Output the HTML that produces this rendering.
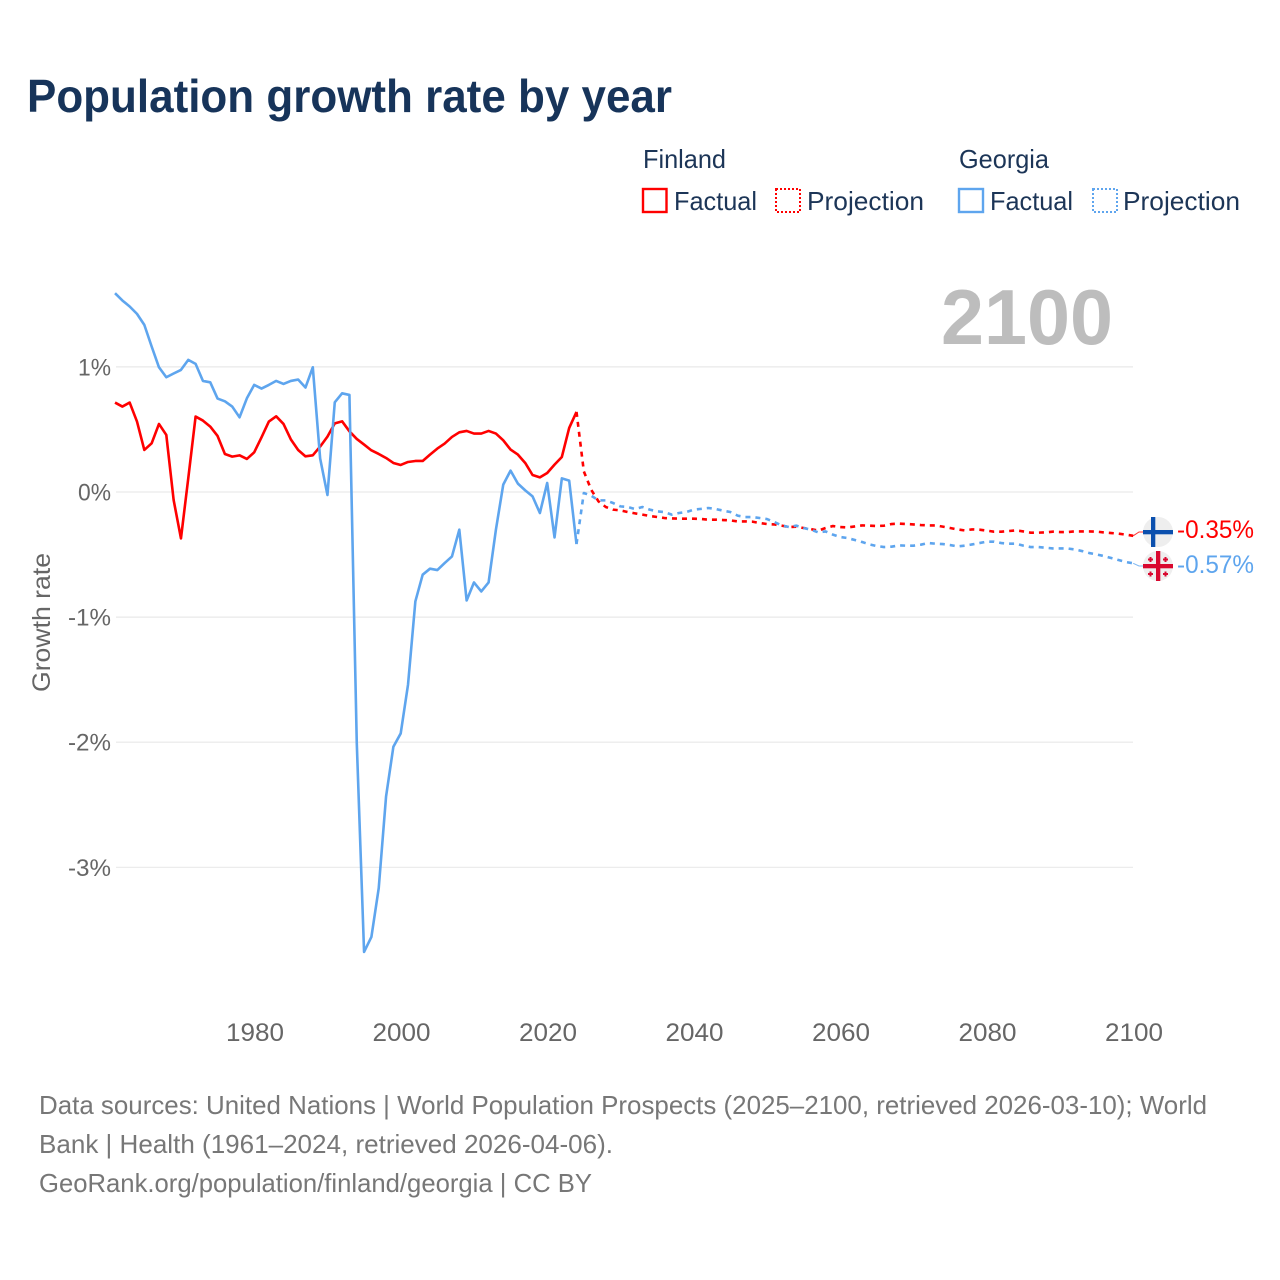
<!DOCTYPE html>
<html lang="en">
<head>
<meta charset="utf-8">
<title>Population growth rate by year</title>
<style>
  html, body { margin: 0; padding: 0; background: #fff; }
  svg { display: block; font-family: "Liberation Sans", sans-serif; }
</style>
</head>
<body>
<svg id="chart" xmlns="http://www.w3.org/2000/svg" width="1280" height="1280" viewBox="0 0 1280 1280">
  <rect x="0" y="0" width="1280" height="1280" fill="#ffffff"/>
  <text x="27" y="112" font-size="46" font-weight="700" fill="#17345a" textLength="645" lengthAdjust="spacingAndGlyphs">Population growth rate by year</text>

  <g font-size="26" fill="#1c3557">
    <text x="643" y="168" textLength="83" lengthAdjust="spacingAndGlyphs">Finland</text>
    <g>
      <rect x="643" y="189" width="23.500" height="23" fill="none" stroke="#ff0000" stroke-width="2.400"/>
      <text x="674" y="210" textLength="83" lengthAdjust="spacingAndGlyphs">Factual</text>
    </g>
    <g>
      <rect x="776" y="189" width="24" height="23" fill="none" stroke="#ff0000" stroke-width="2" stroke-dasharray="2 2"/>
      <text x="807" y="210" textLength="117" lengthAdjust="spacingAndGlyphs">Projection</text>
    </g>
    <text x="959" y="168" textLength="90" lengthAdjust="spacingAndGlyphs">Georgia</text>
    <g>
      <rect x="959" y="189" width="24" height="23" fill="none" stroke="#5ea5ee" stroke-width="2.400"/>
      <text x="990" y="210" textLength="83" lengthAdjust="spacingAndGlyphs">Factual</text>
    </g>
    <g>
      <rect x="1093" y="189" width="24" height="23" fill="none" stroke="#5ea5ee" stroke-width="2" stroke-dasharray="2 2"/>
      <text x="1123" y="210" textLength="117" lengthAdjust="spacingAndGlyphs">Projection</text>
    </g>
  </g>

  <text x="941" y="344" font-size="78" font-weight="700" fill="#bdbdbd" textLength="172" lengthAdjust="spacingAndGlyphs">2100</text>

  <g id="grid"></g>
  <g id="y-ticks"></g>
  <g id="x-ticks"></g>
  <text transform="translate(50,692) rotate(-90)" x="0" y="0" font-size="25" fill="#666666" textLength="139" lengthAdjust="spacingAndGlyphs">Growth rate</text>
  <g id="series"></g>

  <g>
    <circle cx="1158" cy="532" r="15" fill="#eeeeee"/>
    <rect x="1151" y="517" width="4.300" height="30" fill="#0b50ae"/>
    <rect x="1143" y="530" width="30" height="4.300" fill="#0b50ae"/>
  </g>
  <g>
    <circle cx="1158" cy="566" r="15" fill="#eeeeee"/>
    <rect x="1156" y="551" width="4.300" height="30" fill="#d9082f"/>
    <rect x="1143" y="564" width="30" height="4.300" fill="#d9082f"/>
    <path fill="#d9082f" d="M1149.5 557h2v1.5h1.5v2h-1.5v1.500h-2v-1.500H1148v-2h1.500zM1164.500 557h2v1.500h1.500v2h-1.500v1.500h-2v-1.500H1163v-2h1.500zM1149.500 571.500h2v1.500h1.500v2h-1.500v1.500h-2V575H1148v-2h1.500zM1164.500 571.500h2v1.500h1.500v2h-1.500v1.500h-2V575H1163v-2h1.500z"/>
  </g>

  <text x="1177" y="538" font-size="25" fill="#ff0000" textLength="77" lengthAdjust="spacingAndGlyphs">-0.35%</text>
  <text x="1177" y="573" font-size="25" fill="#5ea5ee" textLength="77" lengthAdjust="spacingAndGlyphs">-0.57%</text>

  <g font-size="26" fill="#777777">
    <text x="39" y="1114" textLength="1168" lengthAdjust="spacingAndGlyphs">Data sources: United Nations | World Population Prospects (2025–2100, retrieved 2026-03-10); World</text>
    <text x="39" y="1153" textLength="574" lengthAdjust="spacingAndGlyphs">Bank | Health (1961–2024, retrieved 2026-04-06).</text>
    <text x="39" y="1192" textLength="553" lengthAdjust="spacingAndGlyphs">GeoRank.org/population/finland/georgia | CC BY</text>
  </g>
</svg>

<script>
const factualStartYear = 1961;
const projectionStartYear = 2024;
const xTickYears = [1980, 2000, 2020, 2040, 2060, 2080, 2100];
const yTickValues = [1, 0, -1, -2, -3];
const yTickLabels = ["1%", "0%", "-1%", "-2%", "-3%"];

const finlandFactual = [
  0.715, 0.683, 0.715, 0.563, 0.336, 0.389, 0.544, 0.456, -0.064, -0.371,
  0.11, 0.603, 0.571, 0.523, 0.448, 0.304, 0.283, 0.293, 0.264, 0.317,
  0.437, 0.563, 0.605, 0.544, 0.421, 0.336, 0.285, 0.293, 0.363, 0.443,
  0.549, 0.565, 0.485, 0.424, 0.379, 0.333, 0.304, 0.272, 0.232, 0.216,
  0.24, 0.248, 0.248, 0.299, 0.347, 0.387, 0.44, 0.477, 0.488, 0.467,
  0.467, 0.488, 0.467, 0.413, 0.339, 0.299, 0.232, 0.136, 0.117, 0.152,
  0.219, 0.28, 0.512, 0.64
];
const georgiaFactual = [
  1.589, 1.531, 1.483, 1.424, 1.336, 1.163, 0.997, 0.917, 0.947, 0.976,
  1.056, 1.024, 0.888, 0.877, 0.747, 0.725, 0.683, 0.597, 0.749, 0.856,
  0.827, 0.856, 0.888, 0.864, 0.888, 0.899, 0.835, 0.997, 0.269, -0.024,
  0.717, 0.789, 0.776, -2.0, -3.677, -3.557, -3.167, -2.435, -2.036, -1.93,
  -1.54, -0.875, -0.661, -0.613, -0.624, -0.568, -0.515, -0.301, -0.867, -0.723,
  -0.795, -0.723, -0.3, 0.059, 0.171, 0.067, 0.013, -0.035, -0.168, 0.072,
  -0.363, 0.109, 0.091, -0.416
];
const finlandProjection = [
  0.64, 0.165, 0.019, -0.075, -0.12, -0.141, -0.147, -0.16, -0.171, -0.181,
  -0.192, -0.2, -0.208, -0.211, -0.213, -0.213, -0.213, -0.216, -0.221, -0.221,
  -0.224, -0.227, -0.235, -0.235, -0.237, -0.248, -0.256, -0.259, -0.269, -0.28,
  -0.277, -0.288, -0.296, -0.309, -0.288, -0.272, -0.28, -0.283, -0.275, -0.267,
  -0.269, -0.272, -0.269, -0.256, -0.253, -0.256, -0.259, -0.264, -0.267, -0.267,
  -0.277, -0.288, -0.299, -0.307, -0.299, -0.301, -0.309, -0.317, -0.317, -0.312,
  -0.307, -0.315, -0.325, -0.325, -0.323, -0.317, -0.32, -0.32, -0.315, -0.315,
  -0.315, -0.317, -0.323, -0.328, -0.333, -0.341, -0.35
];
const georgiaProjection = [
  -0.416, -0.008, -0.029, -0.067, -0.067, -0.088, -0.115, -0.12, -0.136, -0.12,
  -0.141, -0.155, -0.16, -0.181, -0.168, -0.16, -0.141, -0.135, -0.128, -0.136,
  -0.149, -0.16, -0.189, -0.2, -0.2, -0.208, -0.216, -0.24, -0.267, -0.28,
  -0.269, -0.288, -0.301, -0.323, -0.315, -0.341, -0.36, -0.368, -0.384, -0.4,
  -0.419, -0.432, -0.44, -0.437, -0.427, -0.429, -0.429, -0.421, -0.408, -0.413,
  -0.416, -0.424, -0.435, -0.429, -0.419, -0.408, -0.397, -0.397, -0.408, -0.413,
  -0.413, -0.429, -0.44, -0.44, -0.445, -0.451, -0.451, -0.451, -0.459, -0.472,
  -0.488, -0.499, -0.512, -0.528, -0.544, -0.56, -0.57
];

const SVG_NS = "http://www.w3.org/2000/svg";
const RED = "#ff0000";
const BLUE = "#5ea5ee";

function tickX(year) {
  return 255 + (year - 1980) * (1134 - 255) / 120;
}
function xScale(year) {
  return tickX(year) - 0.8;
}
function yScale(value) {
  return 492 - value * 125.1;
}
function linePath(values, startYear) {
  return values.map(function (v, i) {
    return (i === 0 ? "M" : "L") + xScale(startYear + i).toFixed(2) + " " + yScale(v).toFixed(2);
  }).join(" ");
}
function drawLine(parent, values, startYear, color, dashed) {
  const path = document.createElementNS(SVG_NS, "path");
  path.setAttribute("d", linePath(values, startYear));
  path.setAttribute("fill", "none");
  path.setAttribute("stroke", color);
  path.setAttribute("stroke-width", "2.6");
  path.setAttribute("stroke-linejoin", "round");
  if (dashed) {
    path.setAttribute("stroke-dasharray", "5 5");
  }
  parent.appendChild(path);
  return path;
}
function drawConnector(parent, values, color, flagY) {
  const path = document.createElementNS(SVG_NS, "path");
  const last = values[values.length - 1];
  path.setAttribute("d", "M" + xScale(2100) + " " + yScale(last).toFixed(2) + " L1139 " + flagY + " L1146 " + flagY);
  path.setAttribute("fill", "none");
  path.setAttribute("stroke", color);
  path.setAttribute("stroke-width", "1");
  path.setAttribute("stroke-opacity", "0.8");
  parent.appendChild(path);
  return path;
}

const gridGroup = document.getElementById("grid");
const yTickGroup = document.getElementById("y-ticks");
const xTickGroup = document.getElementById("x-ticks");
const seriesGroup = document.getElementById("series");

yTickValues.forEach(function (value, i) {
  const line = document.createElementNS(SVG_NS, "line");
  
  
  line.setAttribute("x1", "116");
  line.setAttribute("x2", "1133");
  line.setAttribute("y1", yScale(value).toFixed(1));
  line.setAttribute("y2", yScale(value).toFixed(1));
  line.setAttribute("stroke", "#e9e9e9");
  line.setAttribute("stroke-width", "1.2");
  gridGroup.appendChild(line);

  const label = document.createElementNS(SVG_NS, "text");
  
  
  label.setAttribute("x", "111");
  label.setAttribute("y", (yScale(value) + 8.5).toFixed(1));
  label.setAttribute("text-anchor", "end");
  label.setAttribute("font-size", "24");
  label.setAttribute("fill", "#666666");
  label.setAttribute("textLength", yTickLabels[i].length === 2 ? "33" : "43");
  label.setAttribute("lengthAdjust", "spacingAndGlyphs");
  label.textContent = yTickLabels[i];
  yTickGroup.appendChild(label);
});

xTickYears.forEach(function (year) {
  const label = document.createElementNS(SVG_NS, "text");
  
  
  label.setAttribute("x", tickX(year).toFixed(1));
  label.setAttribute("y", "1041");
  label.setAttribute("text-anchor", "middle");
  label.setAttribute("font-size", "25");
  label.setAttribute("fill", "#666666");
  label.setAttribute("textLength", "58");
  label.setAttribute("lengthAdjust", "spacingAndGlyphs");
  label.textContent = String(year);
  xTickGroup.appendChild(label);
});

const finlandFactualLine = drawLine(seriesGroup, finlandFactual, factualStartYear, RED, false);



const finlandProjectionLine = drawLine(seriesGroup, finlandProjection, projectionStartYear, RED, true);



const georgiaFactualLine = drawLine(seriesGroup, georgiaFactual, factualStartYear, BLUE, false);



const georgiaProjectionLine = drawLine(seriesGroup, georgiaProjection, projectionStartYear, BLUE, true);



const finlandConnector = drawConnector(seriesGroup, finlandProjection, RED, 532);



const georgiaConnector = drawConnector(seriesGroup, georgiaProjection, BLUE, 566);


</script>
</body>
</html>
